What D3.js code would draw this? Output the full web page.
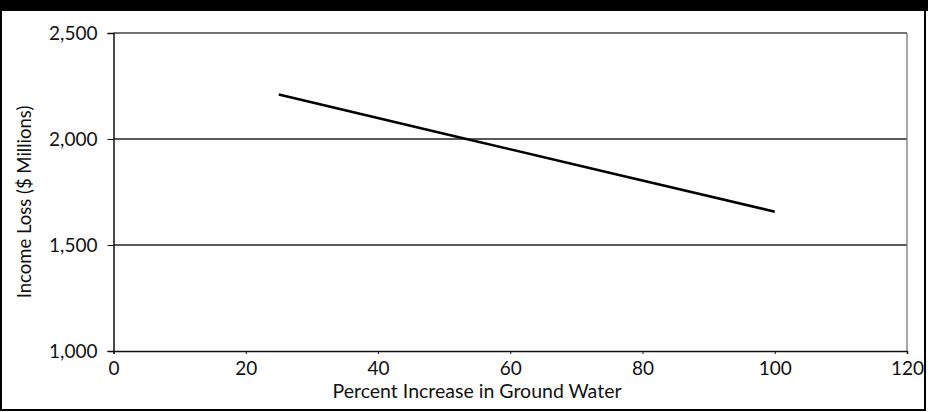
<!DOCTYPE html>
<html>
<head>
<meta charset="utf-8">
<script src="https://cdn.jsdelivr.net/npm/d3@7"></script>
<style>
  body { margin: 0; background: #fff; }
  svg text { font-family: Lato, "Noto Sans", sans-serif; fill: #111; }
</style>
</head>
<body>
<div id="chart"></div>
<script>
// data
var groundWater = [25, 50, 75, 100];
var incomeLoss  = [2210, 2025, 1841, 1657];
var xTicks = [0, 20, 40, 60, 80, 100, 120];
var yTicks = [1000, 1500, 2000, 2500];
var xTitle = "Percent Increase in Ground Water";
var yTitle = "Income Loss ($ Millions)";

var width = 928, height = 412;
var margin = {left: 113.5, right: 21, top: 33, bottom: 61};

var xScale = d3.scaleLinear().domain([0, 120]).range([margin.left, width - margin.right]);
var yScale = d3.scaleLinear().domain([1000, 2500]).range([height - margin.bottom, margin.top]);

var svg = d3.select("#chart")
    .append("svg")
    .attr("width", width)
    .attr("height", height);

// outer frame and black header band
svg.append("rect")
    .attr("x", 0).attr("y", 0)
    .attr("width", width).attr("height", 11)
    .attr("fill", "#000");
svg.append("rect")
    .attr("x", 1).attr("y", 5)
    .attr("width", 924).attr("height", 405)
    .attr("fill", "none")
    .attr("stroke", "#000")
    .attr("stroke-width", 2);

// gridlines
svg.append("g")
    .selectAll("line")
    .data([1500, 2000])
    .enter()
    .append("line")
    .attr("x1", xScale(0))
    .attr("x2", xScale(120))
    .attr("y1", function(d) { return yScale(d); })
    .attr("y2", function(d) { return yScale(d); })
    .attr("stroke", "#222")
    .attr("stroke-width", 1.3);

// top and right of the plot box
svg.append("line")
    .attr("x1", xScale(0)).attr("x2", xScale(120))
    .attr("y1", yScale(2500)).attr("y2", yScale(2500))
    .attr("stroke", "#444").attr("stroke-width", 1.3);
svg.append("line")
    .attr("x1", xScale(120)).attr("x2", xScale(120))
    .attr("y1", yScale(2500)).attr("y2", yScale(1000))
    .attr("stroke", "#777").attr("stroke-width", 1.3);

// axes
var xAxis = d3.axisBottom(xScale).tickValues(xTicks).tickSize(3).tickPadding(8)
    .tickFormat(d3.format("d"));
var yAxis = d3.axisLeft(yScale).tickValues(yTicks).tickSize(6).tickPadding(10)
    .tickFormat(d3.format(","));

var gx = svg.append("g")
    .attr("transform", "translate(0," + yScale(1000) + ")")
    .call(xAxis);
var gy = svg.append("g")
    .attr("transform", "translate(" + xScale(0) + ",0)")
    .call(yAxis);

[gx, gy].forEach(function(g) {
    g.select(".domain").attr("stroke", "#111").attr("stroke-width", 1.5);
    g.selectAll(".tick line").attr("stroke", "#111");
    g.selectAll(".tick text").attr("font-size", 19).attr("fill", "#111");
});

// axis titles
svg.append("text")
    .attr("x", 477)
    .attr("y", 398)
    .attr("text-anchor", "middle")
    .attr("font-size", 19.5)
    .text(xTitle);

svg.append("text")
    .attr("transform", "translate(31,202) rotate(-90)")
    .attr("text-anchor", "middle")
    .attr("font-size", 18.5)
    .text(yTitle);

// the series
var line = d3.line()
    .x(function(d) { return xScale(d[0]); })
    .y(function(d) { return yScale(d[1]); });

svg.append("path")
    .datum(d3.zip(groundWater, incomeLoss))
    .attr("d", line)
    .attr("fill", "none")
    .attr("stroke", "#000")
    .attr("stroke-width", 2.6);
</script>
</body>
</html>
